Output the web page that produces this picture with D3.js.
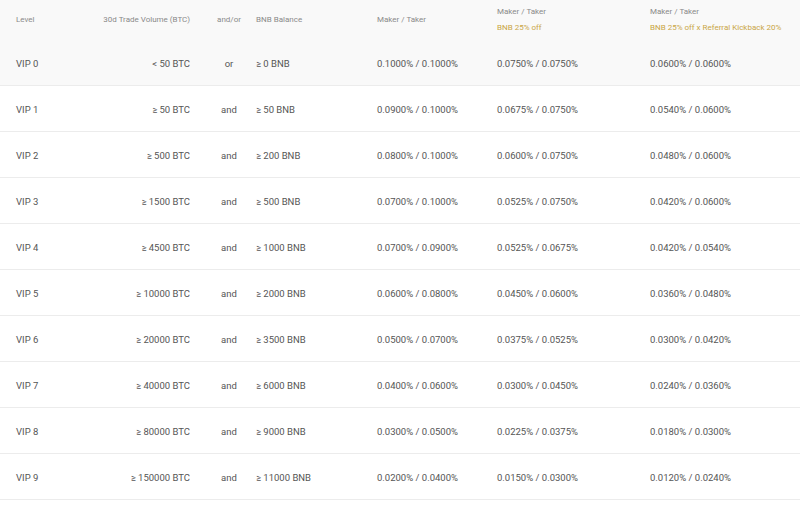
<!DOCTYPE html><html><head><meta charset="utf-8"><script src="https://cdn.jsdelivr.net/npm/d3@7"></script>
<style>body{margin:0;background:#fff}</style></head><body><svg id="c" width="800" height="507"></svg><script>
const levels=["VIP 0","VIP 1","VIP 2","VIP 3","VIP 4","VIP 5","VIP 6","VIP 7","VIP 8","VIP 9"];
const volume=["< 50 BTC","≥ 50 BTC","≥ 500 BTC","≥ 1500 BTC","≥ 4500 BTC","≥ 10000 BTC","≥ 20000 BTC","≥ 40000 BTC","≥ 80000 BTC","≥ 150000 BTC"];
const andor=["or","and","and","and","and","and","and","and","and","and"];
const bnb=["≥ 0 BNB","≥ 50 BNB","≥ 200 BNB","≥ 500 BNB","≥ 1000 BNB","≥ 2000 BNB","≥ 3500 BNB","≥ 6000 BNB","≥ 9000 BNB","≥ 11000 BNB"];
const maker=[0.1,0.09,0.08,0.07,0.07,0.06,0.05,0.04,0.03,0.02];
const taker=[0.1,0.1,0.1,0.1,0.09,0.08,0.07,0.06,0.05,0.04];
const headers=["Level","30d Trade Volume (BTC)","and/or","BNB Balance","Maker / Taker","Maker / Taker","Maker / Taker"];
const subHeaders=["","","","","","BNB 25% off","BNB 25% off x Referral Kickback 20%"];
const fmt=v=>v.toFixed(4)+"%";
const svg=d3.select("#c");
const y=d3.scaleBand().domain(d3.range(10)).range([40,500]);
const font="Roboto, 'DejaVu Sans', sans-serif";
svg.append("rect").attr("x",0).attr("y",0).attr("width",800).attr("height",y(1)).attr("fill","#f9f9f9");
svg.selectAll("line.r").data(d3.range(10)).join("line").attr("x1",0).attr("x2",800)
 .attr("y1",d=>y(d)+y.bandwidth()-0.5).attr("y2",d=>y(d)+y.bandwidth()-0.5).attr("stroke","#ececec");
const cols=[{x:16,a:"start"},{x:190,a:"end"},{x:229,a:"middle"},{x:256,a:"start"},{x:377,a:"start"},{x:497,a:"start"},{x:650,a:"start"}];
headers.forEach((h,i)=>{
 const sub=subHeaders[i];
 svg.append("text").attr("x",cols[i].x).attr("y",sub?14:22).attr("text-anchor",cols[i].a)
  .attr("font-family",font).attr("font-size",8).attr("fill","#8a8a8a").text(h);
 if(sub) svg.append("text").attr("x",cols[i].x).attr("y",30).attr("text-anchor",cols[i].a)
  .attr("font-family",font).attr("font-size",8).attr("fill","#c9a646").text(sub);
});
d3.range(10).forEach(r=>{
 const vals=[levels[r],volume[r],andor[r],bnb[r],fmt(maker[r])+" / "+fmt(taker[r]),
  fmt(maker[r]*0.75)+" / "+fmt(taker[r]*0.75),fmt(maker[r]*0.6)+" / "+fmt(taker[r]*0.6)];
 vals.forEach((v,i)=>svg.append("text").attr("x",cols[i].x).attr("y",y(r)+y.bandwidth()/2+3.5)
  .attr("text-anchor",cols[i].a).attr("font-family",font).attr("font-size",9.5).attr("fill","#555").text(v));
});
</script></body></html>
